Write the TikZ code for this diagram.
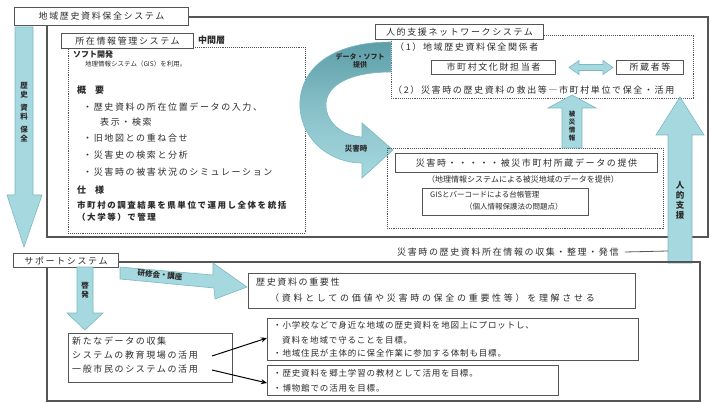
\documentclass[tikz,border=0pt]{standalone}
\usepackage{fontspec}
\setmainfont{Noto Sans CJK JP}
\newfontfamily\jpw[LetterSpace=18]{Noto Sans CJK JP}
\newfontfamily\jpww[LetterSpace=30]{Noto Sans CJK JP}
\newfontfamily\jpwn[LetterSpace=10]{Noto Sans CJK JP}
\newfontfamily\jpn{Noto Sans CJK JP}
\definecolor{arrfill}{HTML}{A6D8DF}
\definecolor{arredge}{HTML}{7AB9C3}
\definecolor{arrdark}{HTML}{5D9EA8}
\definecolor{txtc}{HTML}{2B2B2B}
\definecolor{linec}{HTML}{555555}
\tikzset{
  frameline/.style={draw=linec, line width=1.1pt},
  dotbox/.style={draw=linec, densely dotted, line width=0.9pt},
  boxnode/.style={draw=linec, line width=1pt, fill=white, inner sep=0pt, anchor=north west, text=txtc},
  blockarrow/.style={fill=arrfill, draw=arredge, line width=0.6pt},
  tA/.style={inner sep=0pt, anchor=west, text=txtc, font=\jpw\fontsize{9}{11}\selectfont},
  tB/.style={inner sep=0pt, anchor=west, text=txtc, font=\jpn\fontsize{8}{10}\selectfont},
  tC/.style={inner sep=0pt, anchor=west, text=txtc, font=\jpn\fontsize{6.5}{8}\selectfont},
  vlab/.style={inner sep=0pt, align=center, text=txtc, font=\jpn\bfseries\fontsize{7.5}{9}\selectfont},
  thinarrow/.style={-{Stealth[length=6pt,width=5pt]}, line width=1pt, draw=black}
}
\usetikzlibrary{arrows.meta}
\begin{document}
\begin{tikzpicture}[x=1pt,y=-1pt]
\useasboundingbox[fill=white] (0,0) rectangle (711,403);

% ---------- upper frame ----------
\draw[frameline] (188,17) -- (708,17) -- (708,237) -- (47,237) -- (47,25);
\node[boxnode, minimum width=174pt, minimum height=18pt, font=\jpw\fontsize{9}{11}\selectfont] (title) at (14,7) {地域歴史資料保全システム};

% left big arrow down
\draw[blockarrow] (15,27) -- (15,195) -- (7,195) -- (24,247) -- (42,195) -- (33,195) -- (33,27) -- cycle;
\node[vlab] (lvlab) at (24,112) {歴\\史\\[4pt]資\\料\\[4pt]保\\全};

% ---------- left dotted box ----------
\draw[dotbox] (68,47) rectangle (305,233);
\node[boxnode, minimum width=132pt, minimum height=15pt, font=\jpw\fontsize{9}{11}\selectfont] (gis) at (61,33) {所在情報管理システム};
\node[tA, font=\jpn\bfseries\fontsize{9}{11}\selectfont] (mid) at (198,40) {中間層};
\node[tB, font=\jpn\bfseries\fontsize{8}{10}\selectfont] (soft) at (73,54) {ソフト開発};
\node[tC] (softsub) at (85,64) {地理情報システム（GIS）を利用。};
\node[tA, font=\jpn\bfseries\fontsize{9}{11}\selectfont] (gaiyo) at (77,90) {概　要};
\node[tA] (g1) at (83,107) {・歴史資料の所在位置データの入力、};
\node[tA] (g2) at (100,122) {表示・検索};
\node[tA] (g3) at (83,138) {・旧地図との重ね合せ};
\node[tA] (g4) at (83,155) {・災害史の検索と分析};
\node[tA] (g5) at (83,172) {・災害時の被害状況のシミュレーション};
\node[tA, font=\jpn\bfseries\fontsize{9}{11}\selectfont] (shiyo) at (77,190) {仕　様};
\node[tA, font=\jpw\bfseries\fontsize{8.5}{10}\selectfont] (s1) at (77,205) {市町村の調査結果を県単位で運用し全体を統括};
\node[tA, font=\jpw\bfseries\fontsize{8.5}{10}\selectfont] (s2) at (77,217) {（大学等）で管理};

% ---------- top-right dotted box ----------
\draw[dotbox] (391,35) rectangle (693,98);
\node[boxnode, minimum width=168pt, minimum height=15pt, font=\jpw\fontsize{9}{11}\selectfont] (jinteki) at (375,24) {人的支援ネットワークシステム};
\node[tA] (j1) at (395,47) {（1）地域歴史資料保全関係者};
\node[boxnode, minimum width=124pt, minimum height=14pt, font=\jpw\fontsize{9}{11}\selectfont] (tanto) at (431,60) {市町村文化財担当者};
\node[boxnode, minimum width=67pt, minimum height=14pt, font=\jpw\fontsize{9}{11}\selectfont] (shozo) at (616,60) {所蔵者等};
\draw[blockarrow] (tanto.east) ++(13,0) coordinate (da1)
  -- ++(10,-7) -- ++(0,4) -- ++(24,0) -- ++(0,-4) -- ++(10,7) -- ++(-10,7) -- ++(0,-4) -- ++(-24,0) -- ++(0,4) -- cycle;
\node[tA] (j2) at (393,90) {（2）災害時の歴史資料の救出等―市町村単位で保全・活用};

% ---------- curved arrow ----------
\shade[top color=arrdark, bottom color=arrfill, middle color=arrfill!60!arrdark, draw=arredge, line width=0.6pt]
  (391,42) .. controls (330,42) and (298,70) .. (300,108)
  .. controls (302,140) and (330,163) .. (362,163) -- (362,178) -- (393,150) -- (362,123) -- (362,137)
  .. controls (342,136) and (326,122) .. (326,105)
  .. controls (326,85) and (350,72) .. (391,72) -- cycle;
\node[vlab, font=\jpn\bfseries\fontsize{7}{8.5}\selectfont] (clab1) at (360,61) {データ・ソフト\\提供};
\node[vlab, font=\jpn\bfseries\fontsize{7.5}{9}\selectfont] (clab2) at (356,149) {災害時};

% ---------- middle-right dotted box ----------
\draw[dotbox] (387,148) rectangle (663,228);
\node[boxnode, minimum width=262pt, minimum height=19pt, font=\jpw\fontsize{9}{11}\selectfont] (saigai) at (395,153) {災害時・・・・・被災市町村所蔵データの提供};
\node[tB, anchor=center] (saigaisub) at (523,179) {（地理情報システムによる被災地域のデータを提供）};
\node[boxnode, minimum width=166pt, minimum height=27pt] (daicho) at (422,188) {};
\node[tB, font=\jpn\fontsize{7.5}{9}\selectfont] (d1) at (430,195) {GISとバーコードによる台帳管理};
\node[tB, font=\jpn\fontsize{7.5}{9}\selectfont] (d2) at (465,207) {（個人情報保護法の問題点）};

% middle vertical arrow up
\draw[blockarrow] (562,148) -- (562,108) -- (548,108) -- (572,95) -- (596,108) -- (582,108) -- (582,148) -- cycle;
\node[vlab, font=\jpn\bfseries\fontsize{6.5}{8}\selectfont] (mvlab) at (572,126) {被\\災\\情\\報};

% ---------- big right arrow up ----------
\draw[blockarrow] (668,263) -- (668,135) -- (656,135) -- (680,97) -- (704,135) -- (692,135) -- (692,263) -- cycle;
\node[vlab, font=\jpn\bfseries\fontsize{8.5}{10}\selectfont] (rvlab) at (680,200) {人\\的\\支\\援};

\node[tA] (collect) at (397,252) {災害時の歴史資料所在情報の収集・整理・発信};
\draw[draw=linec, line width=0.8pt] (collect.east) ++(6,0) -- (668,251);

% ---------- lower frame ----------
\draw[frameline] (118,262) -- (700,262) -- (700,401) -- (47,401) -- (47,267);
\node[boxnode, minimum width=105pt, minimum height=14pt, font=\jpw\fontsize{9}{11}\selectfont] (support) at (13,253) {サポートシステム};

% right arrow
\draw[blockarrow] (120,267) -- (213,275) -- (213,263) -- (247,287) -- (215,299) -- (214,288) -- (120,279) -- cycle;
\node[vlab, rotate=-5, font=\jpn\bfseries\fontsize{7.5}{9}\selectfont] (rlab) at (160,275) {研修会・講座};

% down arrow
\draw[blockarrow] (77,267) -- (77,313) -- (67,313) -- (85,330) -- (103,313) -- (93,313) -- (93,267) -- cycle;
\node[vlab] (dlab) at (85,290) {啓\\発};

% importance box
\node[boxnode, minimum width=387pt, minimum height=35pt] (juyo) at (248,273) {};
\node[tA] (ju1) at (256,282) {歴史資料の重要性};
\node[tA, font=\jpww\fontsize{9}{11}\selectfont] (ju2) at (270,298) {（資料としての価値や災害時の保全の重要性等）を理解させる};

% new data box
\node[boxnode, minimum width=164pt, minimum height=49pt] (newdata) at (68,333) {};
\node[tA] (n1) at (72,341) {新たなデータの収集};
\node[tA] (n2) at (72,355) {システムの教育現場の活用};
\node[tA] (n3) at (72,369) {一般市民のシステムの活用};

% right boxes
\node[boxnode, minimum width=371pt, minimum height=42pt] (rb1) at (267,318) {};
\node[tA, font=\jpwn\fontsize{8.5}{10}\selectfont] (r11) at (273,325) {・小学校などで身近な地域の歴史資料を地図上にプロットし、};
\node[tA, font=\jpwn\fontsize{8.5}{10}\selectfont] (r12) at (282,340) {資料を地域で守ることを目標。};
\node[tA, font=\jpwn\fontsize{8.5}{10}\selectfont] (r13) at (273,353) {・地域住民が主体的に保全作業に参加する体制も目標。};
\node[boxnode, minimum width=291pt, minimum height=30pt] (rb2) at (267,365) {};
\node[tA, font=\jpwn\fontsize{8.5}{10}\selectfont] (r21) at (273,373) {・歴史資料を郷土学習の教材として活用を目標。};
\node[tA, font=\jpwn\fontsize{8.5}{10}\selectfont] (r22) at (273,388) {・博物館での活用を目標。};

\coordinate (a1s) at (212,356);
\coordinate (a2s) at (212,370);
\draw[thinarrow] (a1s) -- (rb1.west |- 0,338);
\draw[thinarrow] (a2s) -- (rb2.west |- 0,383);
\end{tikzpicture}
\end{document}
